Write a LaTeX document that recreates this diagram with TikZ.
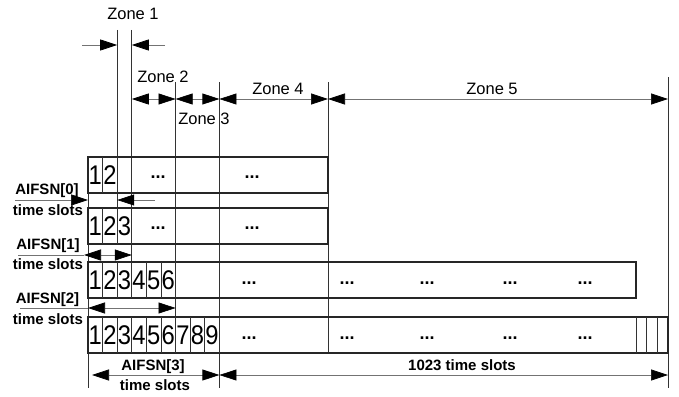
\documentclass[tikz,border=0pt]{standalone}
\usepackage{fontspec}
\setmainfont{Liberation Sans}
\newfontfamily\digitfont[FakeStretch=0.88]{Liberation Sans}
\usetikzlibrary{arrows.meta}
\tikzset{
 tipT/.style={},
 dim/.style={draw=black!55, line width=0.7pt},
 dimR/.style={dim, -{Triangle[length=17pt,width=11pt,color=black,fill=black]}},
 dimLR/.style={dim, {Triangle[length=17pt,width=11pt,color=black,fill=black]}-{Triangle[length=17pt,width=11pt,color=black,fill=black]}},
 zoneline/.style={draw=black!80, line width=0.8pt},
 rowbox/.style={draw=black!85, line width=1.3pt},
 divider/.style={draw=black!80, line width=0.8pt},
 zonelabel/.style={font=\fontsize{16.5}{18}\selectfont, anchor=base, inner sep=0pt},
 boldlabel/.style={font=\fontsize{15}{16}\selectfont\bfseries, anchor=base, inner sep=0pt},
 digit/.style={font=\digitfont\fontsize{27}{28}\selectfont, anchor=base, inner sep=0pt},
 dotsl/.style={font=\fontsize{18}{18}\selectfont\bfseries, anchor=base, inner sep=0pt},
}
\begin{document}
\begin{tikzpicture}[x=1pt,y=-1pt]
\useasboundingbox (0,0) rectangle (679,396);
\def\sw{14.6}
% zone lines
\draw[zoneline] (117.2,30) -- (117.2,208);
\draw[zoneline] (131.8,30) -- (131.8,262);
\draw[zoneline] (175.6,82) -- (175.6,353);
\draw[zoneline] (219.4,82) -- (219.4,388);
\draw[zoneline] (328,82) -- (328,353);
\draw[zoneline] (668,77) -- (668,388);
\draw[zoneline] (88,157) -- (88,388);
% zone arrows
\coordinate (z1a) at (82,45); \coordinate (z1b) at (117.2,45);
\coordinate (z1c) at (165,45); \coordinate (z1d) at (131.8,45);
\draw[dimR] (z1a) -- (z1b);
\draw[dimR] (z1c) -- (z1d);
\coordinate (za) at (131.8,99); \coordinate (zb) at (175.6,99);
\coordinate (zc) at (219.4,99); \coordinate (zd) at (328,99);
\coordinate (ze) at (668,99);
\draw[dimLR] (za) -- (zb);
\draw[dimLR] (zb) -- (zc);
\draw[dimLR] (zc) -- (zd);
\draw[dimLR] (zd) -- (ze);
\node[zonelabel] (zl1) at (133,20) {Zone 1};
\node[zonelabel] (zl2) at (163,82) {Zone 2};
\node[zonelabel] (zl3) at (204,124) {Zone 3};
\node[zonelabel] (zl4) at (278,94) {Zone 4};
\node[zonelabel] (zl5) at (492,94) {Zone 5};
% row 0
\draw[rowbox] (88,157) rectangle (328,193);
\foreach \i in {1,2} \draw[divider] ({88+\sw*\i},157) -- ({88+\sw*\i},193);
\foreach \i in {1,2} \node[digit] (r0d\i) at ({88+\sw*\i-\sw/2},184) {\i};
\node[dotsl] (r0a) at (158,178) {...};
\node[dotsl] (r0b) at (252,178) {...};
% row 1
\draw[rowbox] (88,208) rectangle (328,244);
\foreach \i in {1,2,3} \draw[divider] ({88+\sw*\i},208) -- ({88+\sw*\i},244);
\foreach \i in {1,2,3} \node[digit] (r1d\i) at ({88+\sw*\i-\sw/2},235) {\i};
\node[dotsl] (r1a) at (158,229) {...};
\node[dotsl] (r1b) at (252,229) {...};
% row 2
\draw[rowbox] (88,262) rectangle (636,298);
\foreach \i in {1,...,6} \draw[divider] ({88+\sw*\i},262) -- ({88+\sw*\i},298);
\foreach \i in {1,...,6} \node[digit] (r2d\i) at ({88+\sw*\i-\sw/2},289) {\i};
\foreach \x [count=\k] in {249,347,427,510,585} \node[dotsl] (r2e\k) at (\x,284) {...};
% row 3
\draw[rowbox] (88,317) rectangle (668,353);
\foreach \i in {1,...,9} \draw[divider] ({88+\sw*\i},317) -- ({88+\sw*\i},353);
\foreach \x in {636,646.7,657.3} \draw[divider] (\x,317) -- (\x,353);
\foreach \i in {1,...,9} \node[digit] (r3d\i) at ({88+\sw*\i-\sw/2},344) {\i};
\foreach \x [count=\k] in {249,347,427,510,585} \node[dotsl] (r3e\k) at (\x,339) {...};
% AIFSN labels
\node[boldlabel] (a0) at (47,194) {AIFSN[0]};
\node[boldlabel] (t0) at (48,215) {time slots};
\coordinate (a0s) at (15,200); \coordinate (a0e) at (88,200);
\coordinate (a0r) at (155,200); \coordinate (a0q) at (117.2,200);
\draw[dimR] (a0s) -- (a0e);
\draw[dimR] (a0r) -- (a0q);
\node[boldlabel] (a1) at (48,249) {AIFSN[1]};
\node[boldlabel] (t1) at (48,269) {time slots};
\coordinate (a1s) at (18,255); \coordinate (a1l) at (84,255); \coordinate (a1e) at (131.8,255);
\draw[dim] (a1s) -- (a1l);
\draw[dimLR] (a1l) -- (a1e);
\node[boldlabel] (a2) at (47.5,303) {AIFSN[2]};
\node[boldlabel] (t2) at (48,324) {time slots};
\coordinate (a2s) at (20,308); \coordinate (a2l) at (88,308); \coordinate (a2e) at (175.6,308);
\draw[dim] (a2s) -- (a2l);
\draw[dimLR] (a2l) -- (a2e);
\node[boldlabel] (a3) at (153,370) {AIFSN[3]};
\node[boldlabel] (t3) at (155,390) {time slots};
\coordinate (a3l) at (92,375); \coordinate (a3e) at (219.4,375); \coordinate (a3f) at (668,375);
\draw[dimLR] (a3l) -- (a3e);
\draw[dimLR] (a3e) -- (a3f);
\node[boldlabel] (tt) at (462,370) {1023 time slots};
\end{tikzpicture}
\end{document}
